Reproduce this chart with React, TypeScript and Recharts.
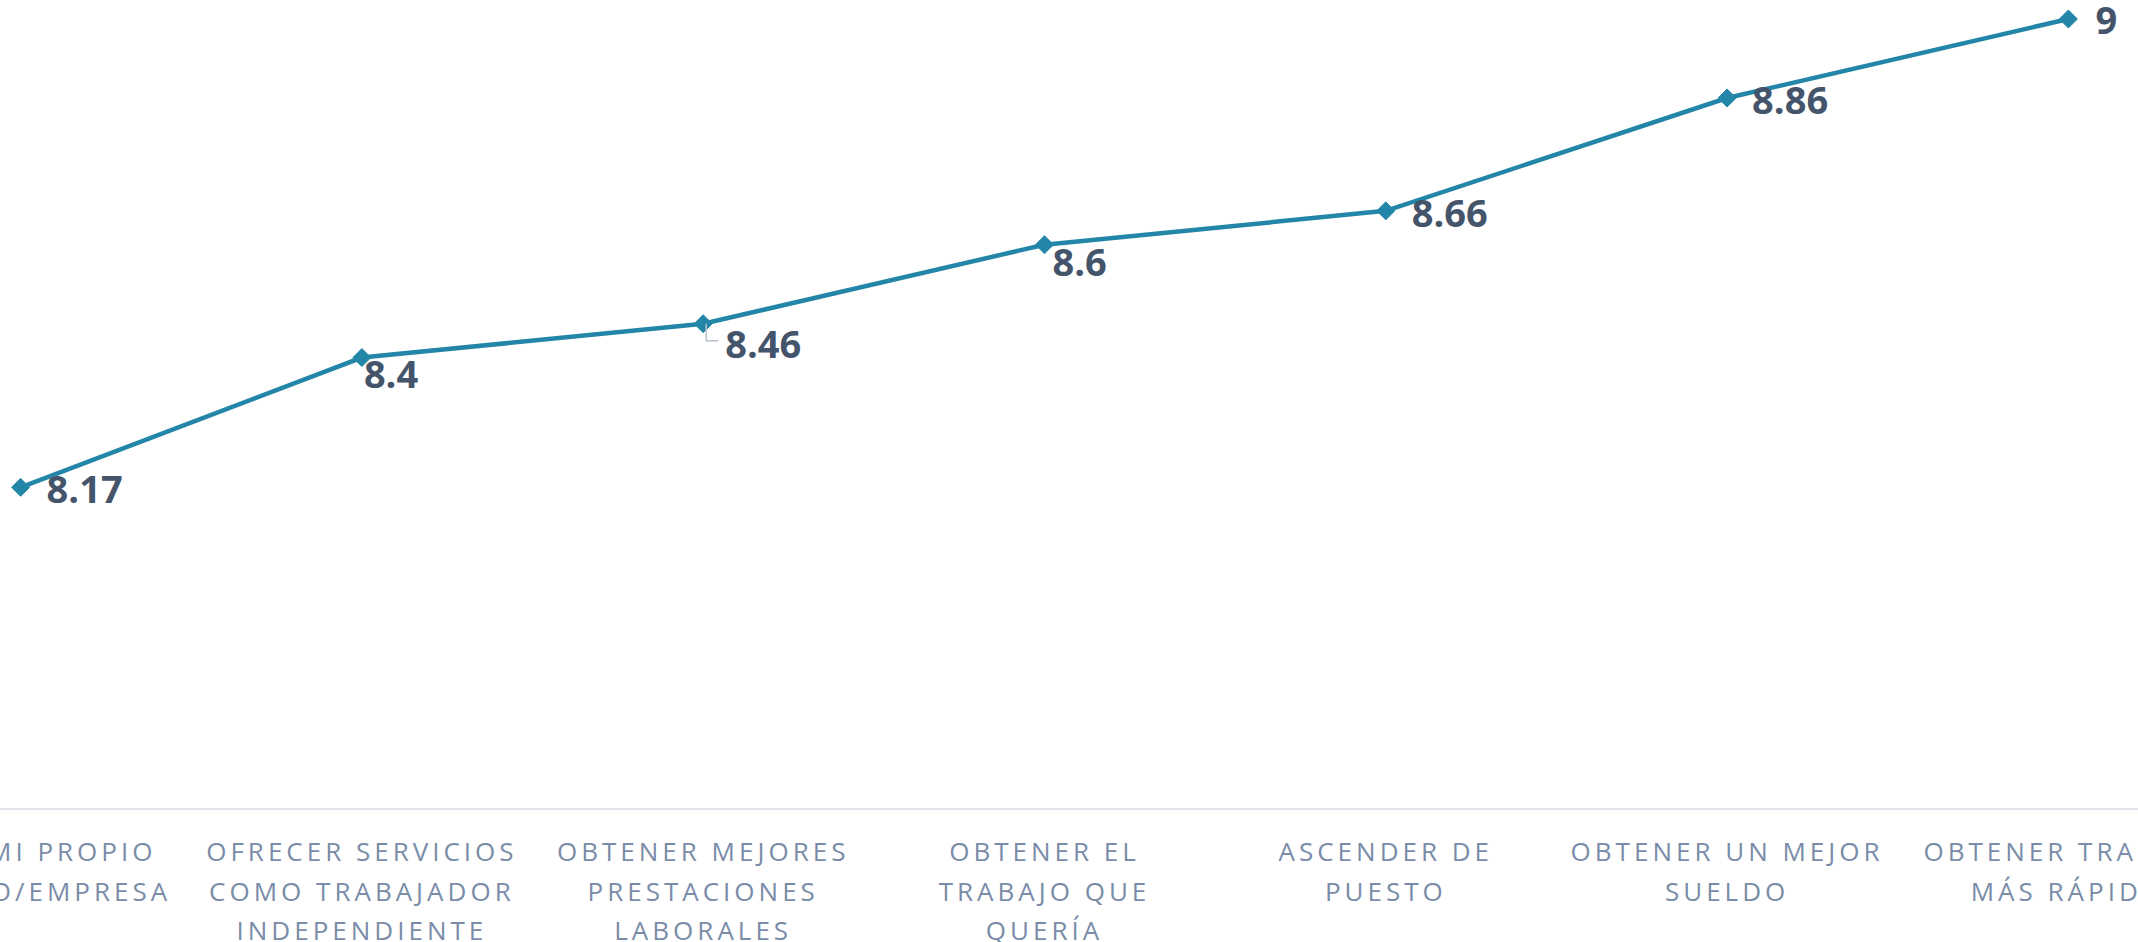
import { LineChart, Line, XAxis, YAxis } from 'recharts';

// categories are cut at both edges in the original picture
const categories = [
  "ABRIR MI PROPIO\nNEGOCIO/EMPRESA",
  "OFRECER SERVICIOS\nCOMO TRABAJADOR\nINDEPENDIENTE",
  "OBTENER MEJORES\nPRESTACIONES\nLABORALES",
  "OBTENER EL\nTRABAJO QUE\nQUERÍA",
  "ASCENDER DE\nPUESTO",
  "OBTENER UN MEJOR\nSUELDO",
  "OBTENER TRABAJO\nMÁS RÁPIDO",
];
const scores = [8.17, 8.4, 8.46, 8.6, 8.66, 8.86, 9];

// label nudges [dx, dy] so the numbers sit like in the original
const labelShift = [
  [26, 1], [2, 15], [22, 19], [8, 16], [26, 1], [25, 1], [27, 0],
];

const data = categories.map((name, i) => ({ name, score: scores[i] }));

const LINE = "#2386a8";
const LABEL = "#44546a";
const TICK = "#7a8ca8";

function Diamond(props: any) {
  const { cx, cy, index } = props;
  if (cx == null || cy == null) return null;
  const r = 9;
  return (
    <polygon
      key={"d" + index}
      points={`${cx},${cy - r} ${cx + r},${cy} ${cx},${cy + r} ${cx - r},${cy}`}
      fill={LINE}
      stroke={LINE}
    />
  );
}

function ValueLabel(props: any) {
  const { x, y, value, index } = props;
  const [dx, dy] = labelShift[index] || [26, 2];
  return (
    <g>
      {index === 2 && (
        <polyline
          points={`${x + 3},${y} ${x + 3},${y + 17} ${x + 15},${y + 17}`}
          fill="none"
          stroke="#b8c0cc"
          strokeWidth={1.5}
        />
      )}
      <text
        x={x + dx}
        y={y + dy}
        dominantBaseline="central"
        fill={LABEL}
        fontFamily="'Open Sans', sans-serif"
        fontWeight={700}
        fontSize={38}
      >
        {String(value)}
      </text>
    </g>
  );
}

function CategoryTick(props: any) {
  const { x, y, payload } = props;
  const lines = String(payload.value).split("\n");
  return (
    <text
      x={x}
      y={y + 44}
      textAnchor="middle"
      fill={TICK}
      fontFamily="'Open Sans', sans-serif"
      fontSize={26}
      letterSpacing={4}
    >
      {lines.map((l, i) => (
        <tspan key={i} x={x} dy={i === 0 ? 0 : 39.5}>
          {l}
        </tspan>
      ))}
    </text>
  );
}

export default function App() {
  return (
    <div
      style={{
        position: "absolute",
        left: 0,
        top: 0,
        width: 2138,
        height: 942,
        overflow: "hidden",
        background: "#fff",
      }}
    >
      <div style={{ position: "absolute", left: -150, top: 0 }}>
        <LineChart
          width={2389}
          height={942}
          data={data}
          margin={{ top: 19, right: 0, left: 0, bottom: 0 }}
        >
          <XAxis
            dataKey="name"
            interval={0}
            height={133}
            padding={{ left: 170.6, right: 170.6 }}
            tickLine={false}
            axisLine={{ stroke: "#d9dee6", strokeWidth: 1.5 }}
            tick={<CategoryTick />}
          />
          <YAxis hide width={0} domain={[7.6, 9]} />
          <Line
            type="linear"
            dataKey="score"
            stroke={LINE}
            strokeWidth={4.5}
            dot={<Diamond />}
            label={<ValueLabel />}
            isAnimationActive={false}
          />
        </LineChart>
      </div>
    </div>
  );
}
